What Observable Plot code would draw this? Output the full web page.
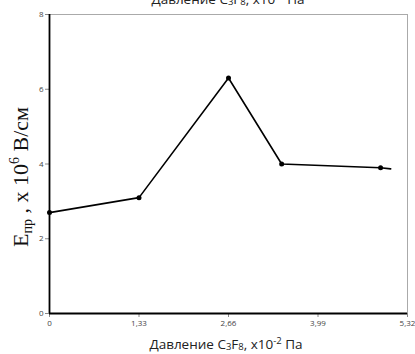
<!DOCTYPE html>
<html>
<head>
<meta charset="utf-8">
<script src="https://cdn.jsdelivr.net/npm/d3@7"></script>
<script src="https://cdn.jsdelivr.net/npm/@observablehq/plot@0.6"></script>
<style>
  html, body { margin: 0; padding: 0; background: #fff; }
  #chart { width: 415px; height: 354px; overflow: hidden; }
</style>
</head>
<body>
<div id="chart"></div>
<script>
// Pressure of C3F8 (x10^-2 Pa) and breakdown field (x10^6 V/cm)
const pressure = [0, 1.33, 2.66, 3.45, 4.92];
const field = [2.7, 3.1, 6.3, 4.0, 3.9];
// short continuation of the line past the last point
const tailPressure = [5.07];
const tailField = [3.87];
const xTicks = [0, 1.33, 2.66, 3.99, 5.32];
const yTicks = [0, 2, 4, 6, 8];

const points = pressure.map((p, i) => ({p, e: field[i]}));
const linePts = points.concat(tailPressure.map((p, i) => ({p, e: tailField[i]})));

const W = 415, H = 354;
const plot = Plot.plot({
  width: W, height: H,
  marginLeft: 49, marginRight: 8, marginTop: 14, marginBottom: 41,
  style: {fontFamily: "'Open Sans', sans-serif", fontSize: "8px", background: "#fff", overflow: "hidden"},
  x: {domain: [0, 5.32], label: null},
  y: {domain: [0, 8], label: null},
  marks: [
    Plot.axisX({ticks: xTicks, tickFormat: d => String(d).replace(".", ","), tickSize: 4, tickPadding: 3, stroke: "#888", fill: "#444", label: null}),
    Plot.axisY({ticks: yTicks, tickSize: 4, tickPadding: 2, stroke: "#888", fill: "#444", label: null}),
    Plot.ruleY([8], {stroke: "#aaa", strokeWidth: 1}),
    Plot.ruleX([5.32], {stroke: "#aaa", strokeWidth: 1}),
    Plot.ruleY([0], {stroke: "#000", strokeWidth: 1.8}),
    Plot.ruleX([0], {stroke: "#000", strokeWidth: 1.8}),
    Plot.line(linePts, {x: "p", y: "e", stroke: "#000", strokeWidth: 1.6}),
    Plot.dot(points, {x: "p", y: "e", r: 2.5, fill: "#000", stroke: "none"})
  ]
});
document.getElementById("chart").appendChild(plot);

const svg = d3.select(plot);
function pressureLabel(sel) {
  sel.append("tspan").text("Давление C");
  sel.append("tspan").attr("font-size", "9.5px").attr("dy", 1).text("3");
  sel.append("tspan").attr("dy", -1).text("F");
  sel.append("tspan").attr("font-size", "9.5px").attr("dy", 1).text("8");
  sel.append("tspan").attr("dy", -1).text(", x10");
  sel.append("tspan").attr("font-size", "9.5px").attr("dy", -5).text("-2");
  sel.append("tspan").attr("dy", 5).text(" Па");
}
// title at top (partly cut off, as in the reference)
pressureLabel(svg.append("text")
  .attr("x", 228).attr("y", 4)
  .attr("text-anchor", "middle")
  .style("font-family", "'Open Sans', sans-serif").style("font-size", "13.5px").attr("fill", "#222"));

// x axis label
pressureLabel(svg.append("text")
  .attr("x", 226).attr("y", 349)
  .attr("text-anchor", "middle")
  .style("font-family", "'Open Sans', sans-serif").style("font-size", "13.5px").attr("fill", "#222"));

// y axis label
const yl = svg.append("text")
  .attr("transform", "translate(28,177) rotate(-90)")
  .attr("text-anchor", "middle")
  .style("font-family", "'Liberation Serif', 'Times New Roman', serif").style("font-size", "22px").attr("fill", "#111");
yl.append("tspan").text("E");
yl.append("tspan").attr("font-size", "14px").attr("dy", 4).text("пр");
yl.append("tspan").attr("dy", -4).text(" , x 10");
yl.append("tspan").attr("font-size", "14px").attr("dy", -9).text("6");
yl.append("tspan").attr("dy", 9).text(" В/см");
</script>
</body>
</html>
